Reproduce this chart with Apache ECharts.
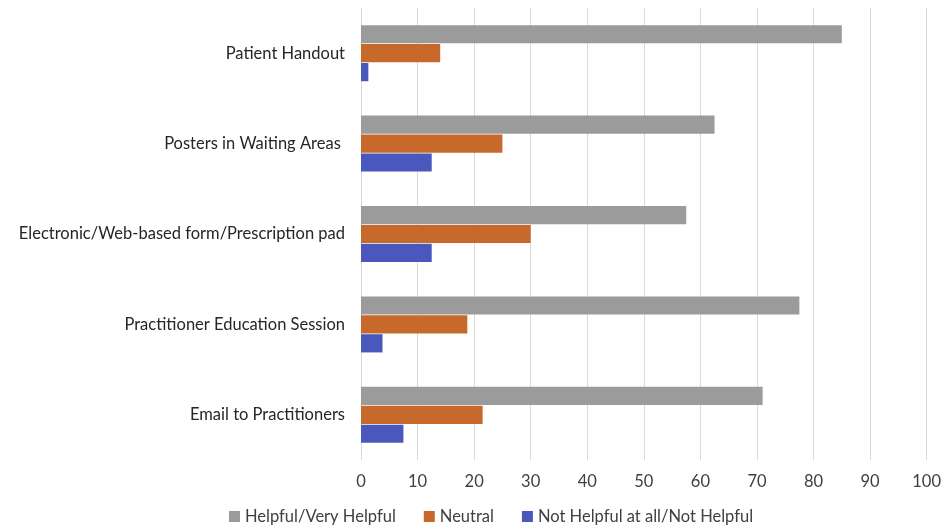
<!DOCTYPE html>
<html><head><meta charset="utf-8">
<script src="https://cdn.jsdelivr.net/npm/echarts@6/dist/echarts.min.js"></script>
<style>html,body{margin:0;padding:0;background:#fff}#c{width:944px;height:532px}</style>
</head><body><div id="c"></div>
<script>
const categories = ["Patient Handout", "Posters in Waiting Areas ", "Electronic/Web-based form/Prescription pad", "Practitioner Education Session", "Email to Practitioners"];
const seriesNames = ["Helpful/Very Helpful", "Neutral", "Not Helpful at all/Not Helpful"];
const helpful = [85, 62.5, 57.5, 77.5, 71];
const neutral = [14, 25, 30, 18.8, 21.5];
const notHelpful = [1.3, 12.5, 12.5, 3.8, 7.5];
const xTicks = [0, 10, 20, 30, 40, 50, 60, 70, 80, 90, 100];
const colors = ["#9b9b9b", "#c7692b", "#4a57bc"];
const font = "Lato, 'Open Sans', sans-serif";
const chart = echarts.init(document.getElementById('c'));
chart.setOption({
  animation: false,
  color: colors,
  grid: {left: 361, right: 12, top: 8, bottom: 72},
  xAxis: {type: 'value', min: xTicks[0], max: xTicks[xTicks.length-1], interval: 10,
    axisLine: {show: false}, axisTick: {show: false},
    splitLine: {lineStyle: {color: '#d9d9d9', width: 1}},
    axisLabel: {color: '#404040', fontSize: 16.5, fontFamily: font, margin: 13}},
  yAxis: {type: 'category', data: categories, inverse: true,
    axisLine: {show: false}, axisTick: {show: false},
    axisLabel: {color: '#262626', fontSize: 16.5, fontFamily: font, margin: 16}},
  legend: {bottom: 2, left: 224, itemWidth: 11, itemHeight: 11, itemGap: 28,
    icon: 'rect', textStyle: {color: '#404040', fontSize: 16.5, fontFamily: font},
    data: seriesNames},
  series: [
    {name: seriesNames[0], type: 'bar', data: helpful, barGap: '4%', barCategoryGap: '38%'},
    {name: seriesNames[1], type: 'bar', data: neutral},
    {name: seriesNames[2], type: 'bar', data: notHelpful}
  ]
});
</script></body></html>
